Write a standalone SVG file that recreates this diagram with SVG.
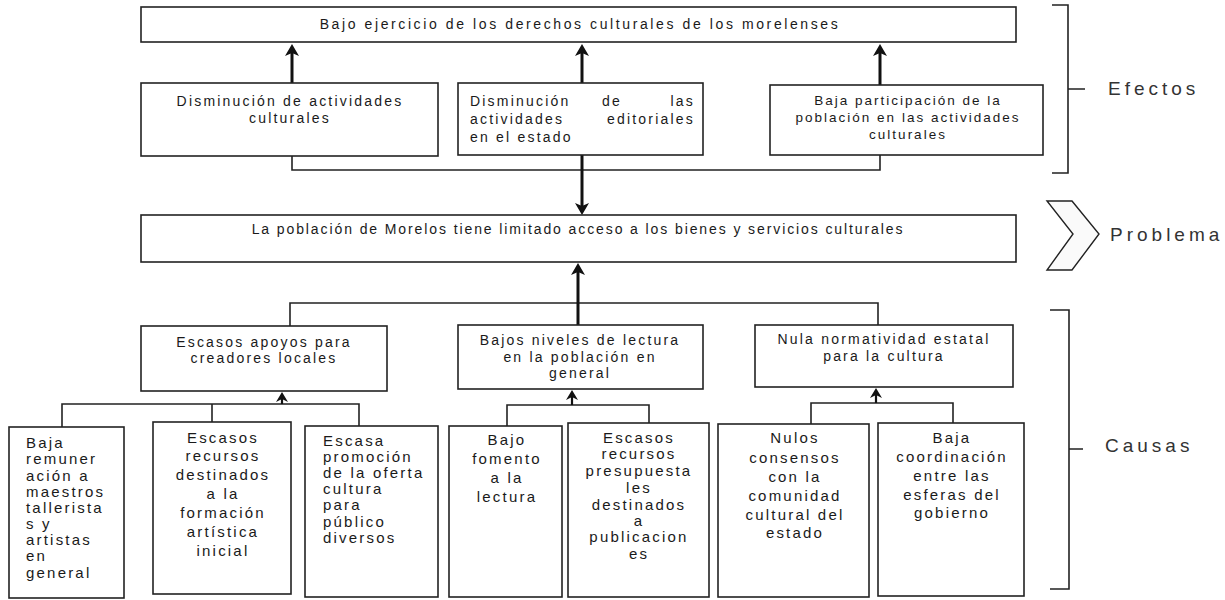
<svg xmlns="http://www.w3.org/2000/svg" width="1225" height="600" viewBox="0 0 1225 600">
<style>
.box{fill:#fff;stroke:#222;stroke-width:1.6}
.ln{fill:none;stroke:#222;stroke-width:1.6}
.thick{fill:none;stroke:#111;stroke-width:3}
.thin{fill:none;stroke:#111;stroke-width:2.2}
text{font-family:"Liberation Sans",Arial,sans-serif;fill:#1a1a1a}
.t{font-size:14px;letter-spacing:2.2px}
.tt{font-size:14px;letter-spacing:2.6px}
.tp{font-size:14px;letter-spacing:1.9px}
.t3{font-size:13.5px;letter-spacing:2px}
.tb{font-size:15px;letter-spacing:2.2px}
.lbl{font-size:19px;letter-spacing:4px;fill:#333}
.m{text-anchor:middle}
.e{text-anchor:end}
</style>
<defs>
<marker id="ah" markerUnits="userSpaceOnUse" markerWidth="20" markerHeight="20" refX="0" refY="0" orient="auto" overflow="visible">
<path d="M7,0 L-5,-7 L-2,0 L-5,7 Z" fill="#111"/>
</marker>
<marker id="as" markerUnits="userSpaceOnUse" markerWidth="16" markerHeight="16" refX="0" refY="0" orient="auto" overflow="visible">
<path d="M5,0 L-5,-6 L-2,0 L-5,6 Z" fill="#111"/>
</marker>
</defs>
<rect width="1225" height="600" fill="#fff"/>

<g id="connectors">
<path class="ln" d="M292,156 V170 H880 V155"/>
<path class="ln" d="M290,326 V303 H878 V325"/>
<path class="ln" d="M62,427 V404 H359 V426 M212,404 V422"/>
<path class="ln" d="M507,426 V405 H649 V423"/>
<path class="ln" d="M811,424 V403 H953 V423"/>
<line class="thick" x1="292" y1="83" x2="292" y2="51" marker-end="url(#ah)"/>
<line class="thick" x1="582" y1="83" x2="582" y2="51" marker-end="url(#ah)"/>
<line class="thick" x1="880" y1="85" x2="880" y2="51" marker-end="url(#ah)"/>
<line class="thick" x1="582" y1="155" x2="582" y2="208" marker-end="url(#ah)"/>
<line class="thick" x1="578" y1="325" x2="578" y2="270" marker-end="url(#ah)"/>
<line class="thin" x1="282" y1="404" x2="282" y2="397" marker-end="url(#as)"/>
<line class="thin" x1="572" y1="405" x2="572" y2="395" marker-end="url(#as)"/>
<line class="thin" x1="876" y1="403" x2="876" y2="393" marker-end="url(#as)"/>
</g>

<g id="efecto-principal">
<rect class="box" x="141" y="7" width="875" height="35"/>
<text class="tt m" x="580" y="29">Bajo ejercicio de los derechos culturales de los morelenses</text>
</g>

<g id="efecto-1">
<rect class="box" x="141" y="83" width="297" height="73"/>
<text class="t m" x="290" y="106">Disminución de actividades</text>
<text class="t m" x="290" y="123">culturales</text>
</g>

<g id="efecto-2">
<rect class="box" x="458" y="83" width="245" height="72"/>
<text class="t" x="470" y="106">Disminución</text>
<text class="t m" x="612" y="106">de</text>
<text class="t e" x="695" y="106">las</text>
<text class="t" x="470" y="124">actividades</text>
<text class="t e" x="695" y="124">editoriales</text>
<text class="t" x="470" y="142">en el estado</text>
</g>

<g id="efecto-3">
<rect class="box" x="770" y="85" width="273" height="70"/>
<text class="t3 m" x="908" y="105">Baja participación de la</text>
<text class="t3 m" x="908" y="122">población en las actividades</text>
<text class="t3 m" x="908" y="139">culturales</text>
</g>

<g id="problema">
<rect class="box" x="141" y="215" width="875" height="47"/>
<text class="tp m" x="578" y="234">La población de Morelos tiene limitado acceso a los bienes y servicios culturales</text>
</g>

<g id="causa-1">
<rect class="box" x="141" y="326" width="246" height="65"/>
<text class="t m" x="264" y="347">Escasos apoyos para</text>
<text class="t m" x="264" y="363">creadores locales</text>
</g>

<g id="causa-2">
<rect class="box" x="458" y="325" width="245" height="64"/>
<text class="t m" x="580" y="345">Bajos niveles de lectura</text>
<text class="t m" x="580" y="362">en la población en</text>
<text class="t m" x="580" y="378">general</text>
</g>

<g id="causa-3">
<rect class="box" x="755" y="325" width="258" height="62"/>
<text class="t m" x="884" y="344">Nula normatividad estatal</text>
<text class="t m" x="884" y="361">para la cultura</text>
</g>

<g id="subcausa-1-1">
<rect class="box" x="9" y="427" width="115" height="171"/>
<text class="tb" x="26" y="448">Baja</text>
<text class="tb" x="26" y="464">remuner</text>
<text class="tb" x="26" y="481">ación a</text>
<text class="tb" x="26" y="497">maestros</text>
<text class="tb" x="26" y="513">tallerista</text>
<text class="tb" x="26" y="529">s y</text>
<text class="tb" x="26" y="545">artistas</text>
<text class="tb" x="26" y="561">en</text>
<text class="tb" x="26" y="578">general</text>
</g>

<g id="subcausa-1-2">
<rect class="box" x="153" y="422" width="138" height="172"/>
<text class="tb m" x="223" y="443">Escasos</text>
<text class="tb m" x="223" y="461">recursos</text>
<text class="tb m" x="223" y="480">destinados</text>
<text class="tb m" x="223" y="499">a la</text>
<text class="tb m" x="223" y="518">formación</text>
<text class="tb m" x="223" y="537">artística</text>
<text class="tb m" x="223" y="556">inicial</text>
</g>

<g id="subcausa-1-3">
<rect class="box" x="305" y="426" width="133" height="171"/>
<text class="tb" x="323" y="446">Escasa</text>
<text class="tb" x="323" y="462">promoción</text>
<text class="tb" x="323" y="478">de la oferta</text>
<text class="tb" x="323" y="494">cultura</text>
<text class="tb" x="323" y="510">para</text>
<text class="tb" x="323" y="527">público</text>
<text class="tb" x="323" y="543">diversos</text>
</g>

<g id="subcausa-2-1">
<rect class="box" x="449" y="426" width="113" height="171"/>
<text class="tb m" x="507" y="445">Bajo</text>
<text class="tb m" x="507" y="464">fomento</text>
<text class="tb m" x="507" y="483">a la</text>
<text class="tb m" x="507" y="502">lectura</text>
</g>

<g id="subcausa-2-2">
<rect class="box" x="568" y="423" width="141" height="174"/>
<text class="tb m" x="639" y="443">Escasos</text>
<text class="tb m" x="639" y="459">recursos</text>
<text class="tb m" x="639" y="476">presupuesta</text>
<text class="tb m" x="639" y="493">les</text>
<text class="tb m" x="639" y="510">destinados</text>
<text class="tb m" x="639" y="526">a</text>
<text class="tb m" x="639" y="542">publicacion</text>
<text class="tb m" x="639" y="559">es</text>
</g>

<g id="subcausa-3-1">
<rect class="box" x="718" y="424" width="151" height="173"/>
<text class="tb m" x="795" y="443">Nulos</text>
<text class="tb m" x="795" y="463">consensos</text>
<text class="tb m" x="795" y="482">con la</text>
<text class="tb m" x="795" y="501">comunidad</text>
<text class="tb m" x="795" y="520">cultural del</text>
<text class="tb m" x="795" y="538">estado</text>
</g>

<g id="subcausa-3-2">
<rect class="box" x="878" y="423" width="146" height="173"/>
<text class="tb m" x="952" y="443">Baja</text>
<text class="tb m" x="952" y="462">coordinación</text>
<text class="tb m" x="952" y="481">entre las</text>
<text class="tb m" x="952" y="500">esferas del</text>
<text class="tb m" x="952" y="518">gobierno</text>
</g>

<g id="etiquetas">
<path class="ln" d="M1052,5 H1068 V173 H1052 M1068,89 H1085"/>
<text class="lbl" x="1108" y="95">Efectos</text>
<polygon points="1047,201 1072,201 1099,234 1072,270 1047,270 1073,234" fill="#fafafa" stroke="#222" stroke-width="1.4"/>
<text class="lbl" x="1110" y="241">Problema</text>
<path class="ln" d="M1050,310 H1069 V589 H1050 M1069,449 H1083"/>
<text class="lbl" x="1105" y="452">Causas</text>
</g>
</svg>
